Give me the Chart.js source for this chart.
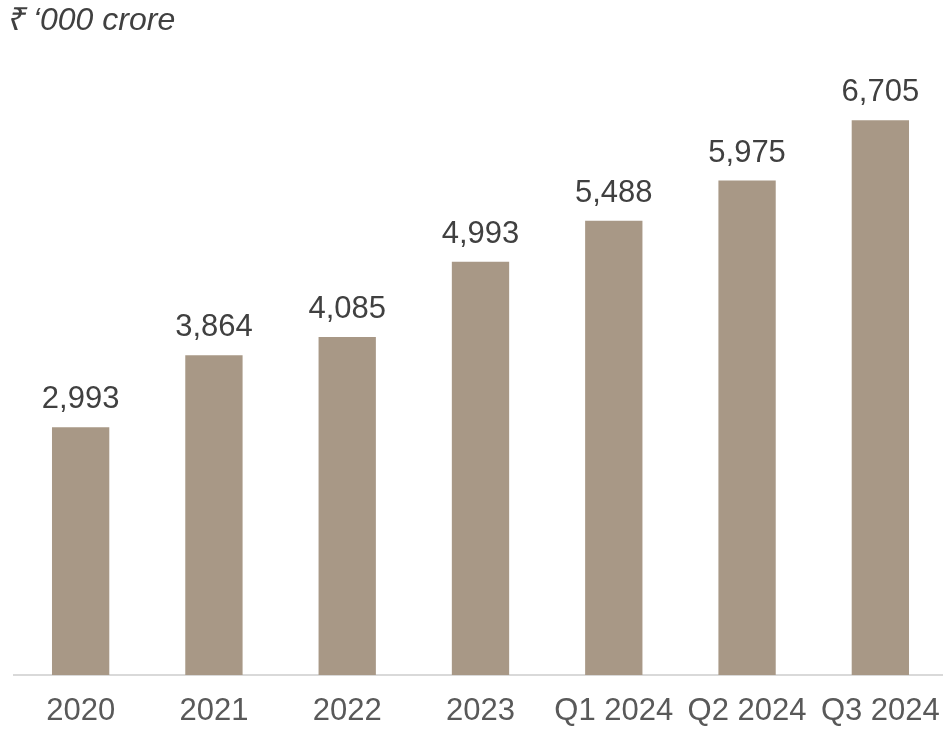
<!DOCTYPE html>
<html>
<head>
<meta charset="utf-8">
<script src="https://cdn.jsdelivr.net/npm/chart.js@4"></script>
<style>
  html, body { margin: 0; padding: 0; background: #ffffff; overflow: hidden; }
  #wrap { position: relative; width: 948px; height: 731px; }
</style>
</head>
<body>
<div id="wrap"><canvas id="c" width="948" height="731"></canvas></div>
<script>
const categories = ['2020', '2021', '2022', '2023', 'Q1 2024', 'Q2 2024', 'Q3 2024'];
const values = [2993, 3864, 4085, 4993, 5488, 5975, 6705];
const unitLabel = '\u20B9 \u2018000 crore';

const FONT = '"Liberation Sans", Arial, Helvetica, sans-serif';

// Value labels above each bar and the unit caption at the top left
const annotate = {
  id: 'annotate',
  afterDatasetsDraw(chart) {
    const ctx = chart.ctx;
    const meta = chart.getDatasetMeta(0);
    ctx.save();
    ctx.fillStyle = '#404040';
    ctx.font = '31px ' + FONT;
    ctx.textAlign = 'center';
    ctx.textBaseline = 'alphabetic';
    meta.data.forEach((bar, i) => {
      ctx.fillText(values[i].toLocaleString('en-US'), bar.x, bar.y - 19);
    });
    ctx.font = 'italic 32px ' + FONT;
    ctx.textAlign = 'left';
    ctx.fillText(unitLabel, 6, 30);
    ctx.restore();
  }
};

new Chart(document.getElementById('c'), {
  type: 'bar',
  data: {
    labels: categories,
    datasets: [{
      data: values,
      backgroundColor: '#A89886',
      borderWidth: 0,
      categoryPercentage: 1,
      barPercentage: 0.43
    }]
  },
  options: {
    responsive: false,
    animation: false,
    layout: { padding: { top: 13, left: 14, right: 1, bottom: 0 } },
    plugins: { legend: { display: false }, tooltip: { enabled: false }, title: { display: false } },
    scales: {
      x: {
        grid: { display: false, drawTicks: false },
        border: { display: true, color: '#D9D9D9', width: 2 },
        ticks: {
          color: '#595959',
          font: { family: FONT, size: 31 },
          padding: 18,
          autoSkip: false,
          maxRotation: 0
        },
        afterFit(scale) {
          scale.height = 56;
          scale.paddingLeft = 0;
          scale.paddingRight = 0;
        }
      },
      y: {
        display: false,
        min: 0,
        max: 8000
      }
    }
  },
  plugins: [annotate]
});
</script>
</body>
</html>
